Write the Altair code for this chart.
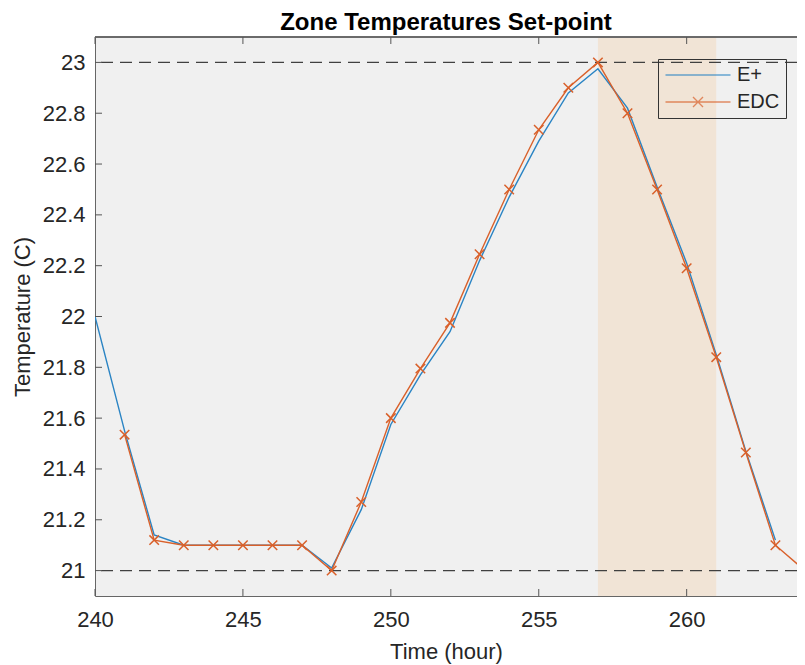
import altair as alt
import pandas as pd

# ---- data ----
hours_eplus = list(range(240, 264))
temp_eplus = [22.00, 21.55, 21.14, 21.10, 21.10, 21.10, 21.10, 21.10, 21.01, 21.24,
              21.575, 21.77, 21.94, 22.22, 22.47, 22.69, 22.88, 22.975, 22.82, 22.51,
              22.21, 21.85, 21.47, 21.12]
hours_edc = list(range(241, 265))
temp_edc = [21.535, 21.12, 21.10, 21.10, 21.10, 21.10, 21.10, 21.00, 21.27, 21.60,
            21.795, 21.975, 22.245, 22.50, 22.735, 22.90, 23.00, 22.80, 22.50, 22.19,
            21.84, 21.465, 21.10, 21.00]
setpoints = [21.0, 23.0]
shade_start = [257]
shade_end = [261]
x_ticks = [240, 245, 250, 255, 260]
y_ticks = [21.0, 21.2, 21.4, 21.6, 21.8, 22.0, 22.2, 22.4, 22.6, 22.8, 23.0]
series_names = ["E+", "EDC"]
series_colors = ["#2a84c4", "#d9602a"]

# plot area is cut at the window edge in the reference (x runs to 264)
W, H = 702, 559
X_MAX = 240 + 24 * W / 710.0
FONT = "Liberation Sans"
TXT = "#262626"
FRAME = "#666666"

df_e = pd.DataFrame({"hour": hours_eplus, "temp": temp_eplus, "series": "E+"})
df_d = pd.DataFrame({"hour": hours_edc, "temp": temp_edc, "series": "EDC"})
df_all = pd.concat([df_e, df_d], ignore_index=True)
df_sp = pd.DataFrame({"temp": setpoints})
df_shade = pd.DataFrame({"hour": shade_start, "hour2": shade_end})
df_xt = pd.DataFrame({"hour": x_ticks})
df_yt = pd.DataFrame({"temp": y_ticks})

xs = alt.Scale(domain=[240, X_MAX], nice=False, zero=False)
ys = alt.Scale(domain=[20.9, 23.1], nice=False, zero=False)
xaxis = alt.Axis(values=x_ticks, format="d", title="Time (hour)", grid=False,
                 ticks=False, domain=True, domainColor=FRAME, labelFlush=False,
                 labelPadding=13, titlePadding=11)
yaxis = alt.Axis(values=y_ticks, format=".1~f", title="Temperature (C)", grid=False,
                 ticks=False, domain=True, domainColor=FRAME, labelFlush=False,
                 labelPadding=10, titlePadding=8)
X = alt.X("hour:Q", scale=xs, axis=xaxis)
Y = alt.Y("temp:Q", scale=ys, axis=yaxis)

shade = alt.Chart(df_shade).mark_rect(color="#f1e4d6").encode(x=X, x2="hour2:Q")
rules = alt.Chart(df_sp).mark_rule(color="#404040", strokeWidth=1.2, strokeDash=[12, 7]).encode(y=Y)

line_e = alt.Chart(df_e).mark_line(strokeWidth=1.4, clip=True, color=series_colors[0]).encode(x=X, y=Y)
line_d = alt.Chart(df_d).mark_line(strokeWidth=1.4, clip=True, color=series_colors[1]).encode(x=X, y=Y)

xpath = "M-1,-1L1,1M-1,1L1,-1"
markers = alt.Chart(df_d).mark_point(shape=xpath, filled=False, size=90, strokeWidth=1.5,
                                     color=series_colors[1], opacity=1, clip=True).encode(x=X, y=Y)

leg = alt.Legend(title=None, orient="none", legendX=563, legendY=22,
                 padding=6, labelFontSize=20, labelFont=FONT, labelColor=TXT,
                 symbolSize=100, symbolOffset=24, labelOffset=29, rowPadding=7,
                 strokeColor="#333333", symbolStrokeWidth=1.4)
# legend-only layer: no rows are drawn, the entries come from the explicit scale domain
legend_layer = alt.Chart(df_all).transform_filter("datum.temp > 100").mark_point(
    filled=False, strokeWidth=1.4).encode(
    x=X, y=Y,
    color=alt.Color("series:N", scale=alt.Scale(domain=series_names, range=series_colors), legend=leg),
    shape=alt.Shape("series:N", scale=alt.Scale(
        domain=series_names,
        range=["M-6.5,0L6.5,0", "M-6.5,0L6.5,0M-1,-1L1,1M-1,1L1,-1"]),
        legend=leg),
)

TC = "#555555"
top_border = alt.Chart(df_xt).mark_rule(color=FRAME).encode(
    x=alt.value(0), x2=alt.value(W), y=alt.value(0))
tick_left = alt.Chart(df_yt).mark_rule(color=TC).encode(y=Y, x=alt.value(0), x2=alt.value(7))
tick_top = alt.Chart(df_xt).mark_rule(color=TC).encode(x=X, y=alt.value(0), y2=alt.value(7))
tick_bot = alt.Chart(df_xt).mark_rule(color=TC).encode(x=X, y=alt.value(H - 7), y2=alt.value(H))

chart = alt.layer(shade, rules, line_e, line_d, markers, legend_layer, top_border,
                  tick_left, tick_top, tick_bot).properties(
    width=W, height=H,
    title=alt.TitleParams("Zone Temperatures Set-point", font=FONT, fontSize=24,
                          fontWeight="bold", color="#000000", offset=2, anchor="middle"),
    autosize=alt.AutoSizeParams(type="none"),
    padding={"left": 87, "top": 29, "right": 0, "bottom": 69},
    background="#ffffff",
).configure_view(fill="#f0f0f0", stroke=None).configure_axis(
    labelFont=FONT, labelFontSize=22, labelColor=TXT,
    titleFont=FONT, titleFontSize=22, titleFontWeight="normal", titleColor=TXT,
)

chart.save("out.html", embed_options={"renderer": "svg", "actions": False})
